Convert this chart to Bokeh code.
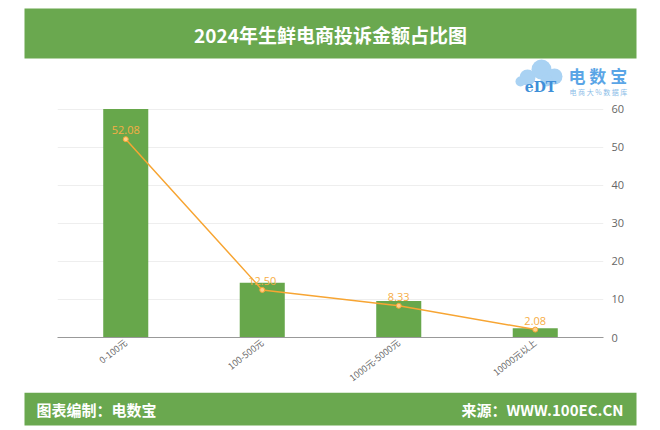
import math
from bokeh.plotting import figure
from bokeh.models import Range1d, FactorRange, FixedTicker, ColumnDataSource
from bokeh.layouts import column
from bokeh.core.properties import value
from bokeh.embed import file_html
from bokeh.resources import INLINE

# ---- data ----
title = "2024年生鲜电商投诉金额占比图"
categories = ["0-100元", "100-500元", "1000元-5000元", "10000元以上"]
counts = [25, 6, 4, 1]              # bar series (hidden left axis, max 25)
shares = [52.08, 12.50, 8.33, 2.08]  # line series (%), right axis
share_ticks = [0, 10, 20, 30, 40, 50, 60]
count_axis_max = 25
footer_left = "图表编制：电数宝"
footer_right = "来源：WWW.100EC.CN"

GREEN = "#6aa84f"
BAR = "#67a74b"
ORANGE = "#f7a533"
LABEL_ORANGE = "#f6ad45"
CJK = value("Noto Sans CJK SC")

W = 660


def deco_fig(h, y0, y1):
    f = figure(width=W, height=h, x_range=Range1d(0, W), y_range=Range1d(y1, y0),
               toolbar_location=None, output_backend="svg", min_border=0,
               frame_align=False)
    f.axis.visible = False
    f.grid.visible = False
    f.outline_line_color = None
    f.background_fill_color = "white"
    f.border_fill_color = "white"
    return f


# ---- top banner + logo ----
top = deco_fig(100, 0, 100)
top.quad(left=24, right=636, top=8, bottom=58, fill_color=GREEN, line_color=None)
top.text(x=[330], y=[34], text=[title], text_font=CJK, text_font_style="bold",
         text_font_size="19px", text_color="white", text_align="center",
         text_baseline="middle")
top.circle(x=[527, 541, 554, 520, 546], y=[77, 69, 76, 81, 80], radius=[8, 10, 8, 5, 6],
           fill_color="#a9d2f3", line_color=None)
top.text(x=[540], y=[86], text=["eDT"], text_font=value("DejaVu Serif"),
         text_font_style="bold", text_font_size="14px", text_color="#3f8fd8",
         text_align="center", text_baseline="alphabetic")
top.text(x=[568], y=[75], text=["电 数 宝"], text_font=CJK, text_font_style="bold",
         text_font_size="17px", text_color="#5aa5e6", text_align="left",
         text_baseline="middle")
top.text(x=[569], y=[91], text=["电 商 大 % 数 据 库"], text_font=CJK,
         text_font_size="7px", text_color="#8bbde8", text_align="left",
         text_baseline="middle")

# ---- chart ----
px_per_unit = (337 - 108.5) / 60.0
y_end = 233 / px_per_unit
p = figure(frame_width=546, frame_height=233, x_range=FactorRange(*categories),
           y_range=Range1d(0, y_end), y_axis_location="right",
           toolbar_location=None, output_backend="svg",
           min_border_left=57, min_border_right=57, min_border_top=4,
           min_border_bottom=53, frame_align=False)
p.extra_y_ranges = {"cnt": Range1d(0, count_axis_max * y_end / share_ticks[-1])}
p.outline_line_color = None
p.background_fill_color = "white"
p.border_fill_color = "white"
p.xgrid.visible = False
p.ygrid.ticker = FixedTicker(ticks=share_ticks)
p.ygrid.grid_line_color = "#eeeeee"

p.yaxis.ticker = FixedTicker(ticks=share_ticks)
p.yaxis.axis_line_color = None
p.yaxis.major_tick_line_color = None
p.yaxis.minor_tick_line_color = None
p.yaxis.major_tick_out = 0
p.yaxis.major_tick_in = 0
p.yaxis.major_label_standoff = 8
p.yaxis.major_label_text_font_size = "11px"
p.yaxis.major_label_text_color = "#666666"
p.yaxis.major_label_text_font = "Open Sans"

p.xaxis.axis_line_color = "#999999"
p.xaxis.major_tick_line_color = None
p.xaxis.minor_tick_line_color = None
p.xaxis.major_tick_out = 0
p.xaxis.major_tick_in = 0
p.xaxis.major_label_orientation = math.radians(38)
p.xaxis.major_label_text_font_size = "9px"
p.xaxis.major_label_text_color = "#666666"
p.xaxis.major_label_text_font = "Noto Sans CJK SC"
p.xaxis.major_label_standoff = 4

src = ColumnDataSource(dict(cat=categories, cnt=counts, share=shares,
                            lab=[f"{v:.2f}" for v in shares]))
p.vbar(x="cat", top="cnt", width=0.33, source=src, y_range_name="cnt",
       fill_color=BAR, line_color=None)
p.line(x="cat", y="share", source=src, line_color=ORANGE, line_width=1.5)
p.scatter(x="cat", y="share", source=src, size=5, fill_color="#ffd08a",
          line_color=ORANGE, line_width=1)
p.text(x="cat", y="share", text="lab", source=src, y_offset=-9,
       text_align="center", text_baseline="alphabetic", text_font_size="11px",
       text_font=value("Open Sans"), text_color=LABEL_ORANGE)

# ---- footer ----
foot = deco_fig(40, 390, 430)
foot.quad(left=24, right=636, top=390, bottom=423, fill_color=GREEN, line_color=None)
foot.text(x=[36], y=[407], text=[footer_left], text_font=CJK, text_font_style="bold",
          text_font_size="15px", text_color="white", text_align="left",
          text_baseline="middle")
foot.text(x=[623], y=[407], text=[footer_right], text_font=CJK, text_font_style="bold",
          text_font_size="15px", text_color="white", text_align="right",
          text_baseline="middle")

layout = column(top, p, foot, spacing=0)
open("out.html", "w").write(file_html(layout, INLINE))
